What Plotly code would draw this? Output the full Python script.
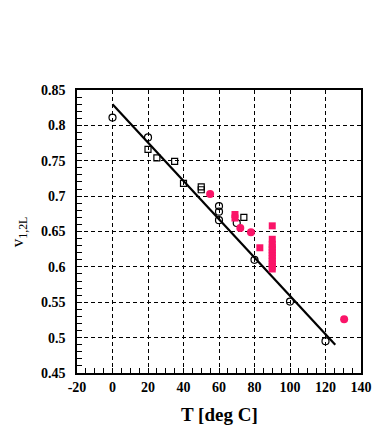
import plotly.graph_objects as go

# Open circles (black)
circ_x = [0, 20, 60, 60, 60, 70, 80, 100, 120]
circ_y = [0.811, 0.783, 0.686, 0.678, 0.666, 0.662, 0.610, 0.551, 0.495]

# Open squares (black)
sq_x = [20, 25, 35, 40, 50, 50, 74]
sq_y = [0.766, 0.754, 0.749, 0.718, 0.713, 0.709, 0.670]

# Filled pink circles
pc_x = [55, 72, 78, 130.5]
pc_y = [0.703, 0.655, 0.649, 0.526]

# Filled pink squares
ps_x = [69, 69, 83, 90, 90, 90, 90, 90, 90, 90, 90, 90, 90, 90, 90]
ps_y = [0.674, 0.669, 0.627, 0.658, 0.639, 0.632, 0.628, 0.624, 0.620,
        0.616, 0.612, 0.608, 0.604, 0.600, 0.597]

# Fitted line
line_x = [0, 125.5]
line_y = [0.830, 0.490]

# Tick labels
x_ticks = [-20, 0, 20, 40, 60, 80, 100, 120, 140]
x_ticktext = ["-20", "0", "20", "40", "60", "80", "100", "120", "140"]
y_ticks = [0.45, 0.5, 0.55, 0.6, 0.65, 0.7, 0.75, 0.8, 0.85]
y_ticktext = ["0.45", "0.5", "0.55", "0.6", "0.65", "0.7", "0.75", "0.8", "0.85"]

x_title = "T [deg C]"
y_title = "v<sub>1,2L</sub>"

pink = "#FA1468"

fig = go.Figure()
fig.add_trace(go.Scatter(x=line_x, y=line_y, mode="lines",
                         line=dict(color="black", width=2.2), showlegend=False))
fig.add_trace(go.Scatter(x=circ_x, y=circ_y, mode="markers",
                         marker=dict(symbol="circle-open", size=7, color="black",
                                     line=dict(width=1.2)), showlegend=False))
fig.add_trace(go.Scatter(x=sq_x, y=sq_y, mode="markers",
                         marker=dict(symbol="square-open", size=6, color="black",
                                     line=dict(width=1.2)), showlegend=False))
fig.add_trace(go.Scatter(x=pc_x, y=pc_y, mode="markers",
                         marker=dict(symbol="circle", size=8, color=pink), showlegend=False))
fig.add_trace(go.Scatter(x=ps_x, y=ps_y, mode="markers",
                         marker=dict(symbol="square", size=7, color=pink), showlegend=False))

tickfont = dict(family="Liberation Serif", size=14, color="black", weight="bold")

fig.update_xaxes(range=[-20, 140], tickvals=x_ticks, ticktext=x_ticktext,
                 showgrid=True, gridcolor="black", griddash="4px,3px", gridwidth=1,
                 showline=True, linecolor="black", linewidth=1.5, mirror=True,
                 ticks="inside", ticklen=0, zeroline=False, automargin=False,
                 minor=dict(dtick=5, ticks="inside", ticklen=5, tickcolor="black", showgrid=False),
                 tickfont=tickfont)
fig.update_yaxes(range=[0.45, 0.85], tickvals=y_ticks, ticktext=y_ticktext,
                 showgrid=True, gridcolor="black", griddash="4px,3px", gridwidth=1,
                 showline=True, linecolor="black", linewidth=1.5, mirror=True,
                 ticks="inside", ticklen=0, zeroline=False, ticklabelstandoff=7,
                 automargin=False,
                 minor=dict(dtick=0.01, ticks="inside", ticklen=5, tickcolor="black", showgrid=False),
                 tickfont=tickfont)

fig.add_annotation(text=x_title, xref="paper", yref="paper", x=0.5, y=-0.148,
                   xanchor="center", yanchor="middle", showarrow=False,
                   font=dict(family="Liberation Serif", size=19, color="black", weight="bold"))
fig.add_annotation(text=y_title, xref="paper", yref="paper", x=-0.205, y=0.5,
                   xanchor="center", yanchor="middle", showarrow=False, textangle=-90,
                   font=dict(family="Liberation Serif", size=17, color="black"))

fig.update_layout(width=389, height=428, plot_bgcolor="white", paper_bgcolor="white",
                  margin=dict(l=77, r=28, t=90, b=55))

fig.write_html("out.html", config={"displayModeBar": False},
               post_script="document.body.style.margin='0';document.body.style.overflow='hidden';")
